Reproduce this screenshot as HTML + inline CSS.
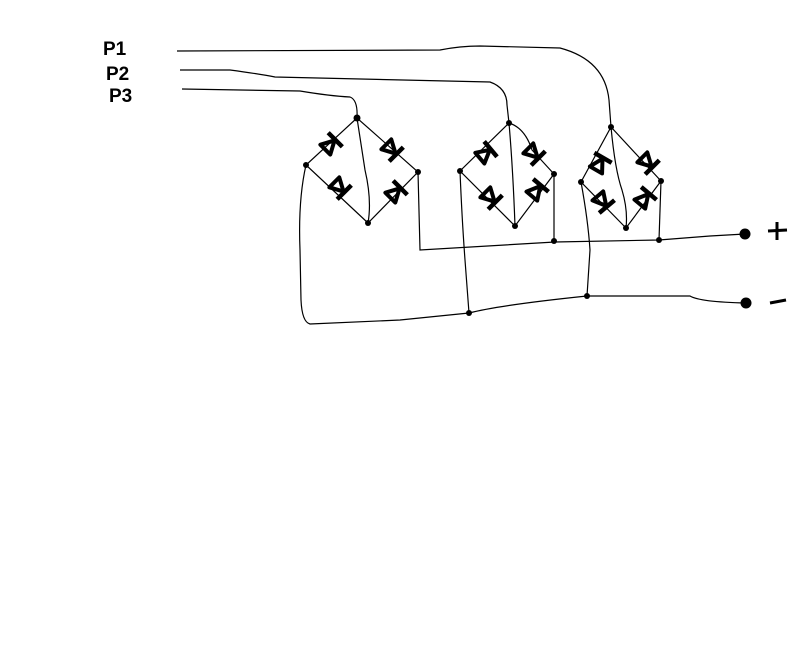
<!DOCTYPE html>
<html><head><meta charset="utf-8"><style>
html,body{margin:0;padding:0;background:#fff;}
svg{display:block}
text{font-family:"Liberation Sans",sans-serif;font-weight:bold;fill:#000}
</style></head><body>
<svg width="797" height="670" viewBox="0 0 797 670" xmlns="http://www.w3.org/2000/svg">
<defs>
<g id="d">
<path d="M-8,-7 L5,0 L-8,7 Z" fill="none" stroke="#000" stroke-width="4" stroke-linejoin="round"/>
<path d="M6,-10 L6,10" stroke="#000" stroke-width="4.5"/>
</g>
</defs>
<text x="103" y="55" font-size="19">P1</text>
<text x="106" y="80" font-size="19">P2</text>
<text x="109" y="102" font-size="19">P3</text>
<g fill="none" stroke="#000" stroke-width="1.2">
<path d="M177,51 L440,50 Q460,46 480,46 L560,48 Q605,60 609,100 L611,127"/>
<path d="M180,70 L230,70 Q260,74 275,77 L490,82 Q507,88 507,105 L509,123"/>
<path d="M182,89 L300,91 Q330,96 350,97 Q358,100 357,118"/>
<path d="M357,118 L306,165 L368,223 L418,172 Z"/>
<path d="M357,118 Q362,150 365,170 Q372,200 368,223"/>
<path d="M509,123 L460,171 L515,226 L554,174 L532,150 Q525,128 509,123"/>
<path d="M509,123 Q513,170 515,226"/>
<path d="M611,127 L581,182 L626,228 L661,181 Z"/>
<path d="M611,127 Q615,170 622,190 Q628,210 626,228"/>
<path d="M418,172 L420,250 L555,242 L659,240 L710,236 L745,234"/>
<path d="M554,174 L554,241"/>
<path d="M661,181 L659,240"/>
<path d="M306,165 Q298,200 300,250 L301,300 Q302,322 310,324 L400,320 L469,313 Q500,305 587,296 L690,296 Q700,302 746,303"/>
<path d="M460,171 Q462,220 465,260 L469,313"/>
<path d="M581,182 Q588,220 590,250 L587,296"/>
</g>
<use href="#d" transform="translate(331,144) rotate(-45)"/>
<use href="#d" transform="translate(392,150) rotate(45)"/>
<use href="#d" transform="translate(340,188) rotate(45)"/>
<use href="#d" transform="translate(396,192) rotate(-45)"/>
<use href="#d" transform="translate(486,153) rotate(-40)"/>
<use href="#d" transform="translate(534,154) rotate(45)"/>
<use href="#d" transform="translate(491,198) rotate(45)"/>
<use href="#d" transform="translate(537,190) rotate(-50)"/>
<use href="#d" transform="translate(600,163) rotate(-60)"/>
<use href="#d" transform="translate(648,163) rotate(45)"/>
<use href="#d" transform="translate(603,202) rotate(50)"/>
<use href="#d" transform="translate(645,198) rotate(-50)"/>
<g fill="#000">
<circle cx="357" cy="118" r="3.5"/><circle cx="306" cy="165" r="3"/><circle cx="418" cy="172" r="3"/><circle cx="368" cy="223" r="3"/>
<circle cx="509" cy="123" r="3"/><circle cx="460" cy="171" r="3"/><circle cx="554" cy="174" r="3"/><circle cx="515" cy="226" r="3"/>
<circle cx="611" cy="127" r="3"/><circle cx="581" cy="182" r="3"/><circle cx="661" cy="181" r="3"/><circle cx="626" cy="228" r="3"/>
<circle cx="554" cy="241" r="3"/><circle cx="659" cy="240" r="3"/><circle cx="469" cy="313" r="3"/><circle cx="587" cy="296" r="3"/>
<circle cx="745" cy="234" r="5.5"/><circle cx="746" cy="303" r="5.5"/>
</g>
<g stroke="#000" stroke-width="3" fill="none">
<path d="M768,231 L787,230 M777,222 L777,240"/>
<path d="M770,303 L786,300"/>
</g>
</svg>
</body></html>
